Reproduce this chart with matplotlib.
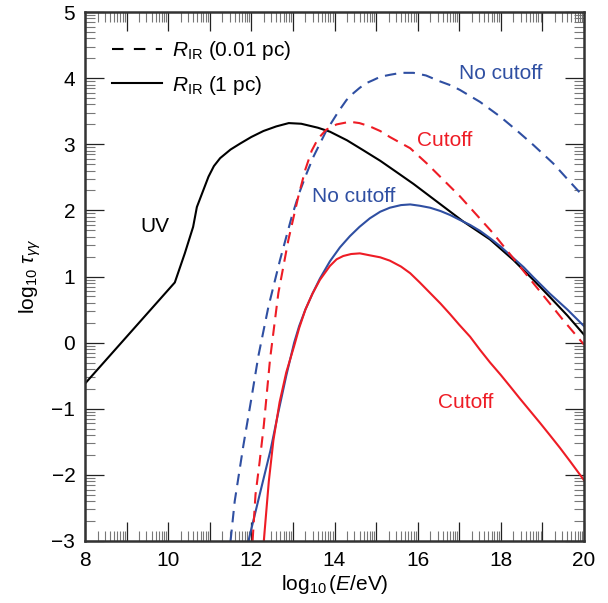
import numpy as np
import matplotlib
matplotlib.use('Agg')
import matplotlib.pyplot as plt
from matplotlib.lines import Line2D
from matplotlib.ticker import FixedLocator, MultipleLocator, FuncFormatter

plt.rcParams['font.family'] = ['Liberation Sans', 'DejaVu Sans']
plt.rcParams['mathtext.fontset'] = 'custom'
plt.rcParams['mathtext.rm'] = 'Liberation Sans'
plt.rcParams['mathtext.it'] = 'Liberation Sans:italic'
plt.rcParams['mathtext.bf'] = 'Liberation Sans:bold'

BLUE = '#2f4fa2'
RED = '#ee1c25'

# R_IR = 1 pc, total with UV (black)
x_uv = [8.0, 10.16, 10.40, 10.60, 10.69, 10.97, 11.10, 11.25, 11.50, 11.73, 12.00, 12.29,
        12.60, 12.90, 13.20, 13.40, 13.60, 13.89, 14.30, 14.69, 15.10, 15.49, 15.90,
        16.30, 16.70, 17.10, 17.74, 18.30, 18.78, 19.18, 19.60, 20.0]
y_uv = [-0.62, 0.91, 1.35, 1.75, 2.05, 2.51, 2.67, 2.79, 2.92, 3.01, 3.11, 3.20,
        3.27, 3.32, 3.31, 3.28, 3.25, 3.19, 3.06, 2.91, 2.75, 2.58, 2.40,
        2.21, 2.02, 1.83, 1.56, 1.25, 0.95, 0.69, 0.41, 0.12]

# R_IR = 1 pc, no cutoff (blue solid)
x_nc1 = [11.93, 12.20, 12.46, 12.65, 12.84, 13.03, 13.15, 13.30, 13.47, 13.65, 13.89,
         14.13, 14.37, 14.60, 14.85, 15.10, 15.33, 15.60, 15.82, 16.05, 16.30, 16.55,
         16.78, 17.00, 17.26, 17.50, 17.74, 18.00, 18.30, 18.55, 18.78, 19.18, 19.60, 20.0]
y_nc1 = [-3.0, -2.3, -1.63, -1.05, -0.5, 0.0, 0.25, 0.5, 0.74, 0.97, 1.23,
         1.44, 1.61, 1.75, 1.88, 1.98, 2.04, 2.08, 2.09, 2.07, 2.04, 1.99,
         1.93, 1.86, 1.78, 1.69, 1.58, 1.45, 1.28, 1.14, 0.99, 0.74, 0.50, 0.25]

# R_IR = 1 pc, cutoff (red solid)
x_c1 = [12.30, 12.42, 12.53, 12.68, 12.84, 13.03, 13.15, 13.30, 13.47, 13.65, 13.89,
        14.05, 14.21, 14.40, 14.61, 14.85, 15.10, 15.33, 15.60, 15.82, 16.05, 16.30,
        16.55, 16.78, 17.00, 17.26, 17.50, 17.74, 18.00, 18.22, 18.45, 18.70, 18.95,
        19.18, 19.42, 19.66, 20.0]
y_c1 = [-3.0, -2.1, -1.48, -0.9, -0.45, -0.05, 0.22, 0.5, 0.74, 0.95, 1.16,
        1.26, 1.31, 1.34, 1.35, 1.32, 1.29, 1.24, 1.15, 1.05, 0.91, 0.75,
        0.59, 0.43, 0.27, 0.09, -0.11, -0.30, -0.49, -0.66, -0.84, -1.03, -1.22,
        -1.40, -1.59, -1.79, -2.08]

# R_IR = 0.01 pc, no cutoff (blue dashed)
x_nc001 = [11.50, 11.60, 11.81, 12.00, 12.17, 12.41, 12.69, 12.97, 13.15, 13.33, 13.50,
           13.65, 13.80, 13.97, 14.10, 14.29, 14.45, 14.60, 14.75, 14.93, 15.10, 15.33,
           15.60, 15.90, 16.20, 16.54, 16.80, 17.02, 17.50, 17.98, 18.38, 18.78, 19.26,
           19.62, 20.0]
y_nc001 = [-3.0, -2.4, -1.55, -0.85, -0.2, 0.54, 1.25, 1.90, 2.26, 2.56, 2.82,
           3.01, 3.20, 3.37, 3.50, 3.67, 3.77, 3.85, 3.92, 3.97, 4.02, 4.05,
           4.08, 4.08, 4.04, 3.95, 3.89, 3.82, 3.64, 3.42, 3.21, 2.99, 2.71,
           2.46, 2.20]

# R_IR = 0.01 pc, cutoff (red dashed)
x_c001 = [12.03, 12.10, 12.20, 12.30, 12.45, 12.65, 12.89, 13.13, 13.30, 13.45, 13.60,
          13.80, 14.05, 14.37, 14.60, 14.85, 15.10, 15.33, 15.82, 16.22, 16.62, 17.02,
          17.42, 17.82, 18.14, 18.46, 18.78, 19.18, 19.50, 20.0]
y_c001 = [-3.0, -2.3, -1.8, -1.25, -0.25, 0.75, 1.55, 2.21, 2.62, 2.90, 3.08,
          3.22, 3.30, 3.34, 3.32, 3.27, 3.20, 3.11, 2.94, 2.71, 2.46, 2.21,
          1.93, 1.65, 1.40, 1.15, 0.90, 0.59, 0.34, -0.03]

fig = plt.figure(figsize=(6.08, 6.03), dpi=100)
ax = fig.add_axes([85/608, 1 - 541/603, 499/608, 529/603])

lw = 1.5
dash = (0, (5.5, 3.5))
ax.plot(x_uv, y_uv, color='black', lw=lw)
ax.plot(x_nc1, y_nc1, color=BLUE, lw=lw)
ax.plot(x_c1, y_c1, color=RED, lw=lw)
ax.plot(x_nc001, y_nc001, color=BLUE, lw=lw, linestyle=dash)
ax.plot(x_c001, y_c001, color=RED, lw=lw, linestyle=dash)

ax.set_xlim(8, 20)
ax.set_ylim(-3, 5)

# log-style minor ticks inside every unit
sub = np.log10(np.arange(2, 10))
ax.xaxis.set_major_locator(MultipleLocator(1))
ax.yaxis.set_major_locator(MultipleLocator(1))
ax.xaxis.set_minor_locator(FixedLocator([n + s for n in range(8, 20) for s in sub]))
ax.yaxis.set_minor_locator(FixedLocator([n + s for n in range(-3, 5) for s in sub]))
ax.xaxis.set_major_formatter(FuncFormatter(lambda v, p: '%d' % v if int(round(v)) % 2 == 0 else ''))
ax.yaxis.set_major_formatter(FuncFormatter(lambda v, p: ('%d' % v).replace('-', '\u2212')))

fs = 15
ax.tick_params(which='both', direction='in', top=True, right=True, labelsize=fs)
ax.tick_params(which='major', length=13.5, width=0.9, color='#222222', pad=7)
ax.tick_params(which='minor', length=7, width=0.8, color='#777777')
for sp in ax.spines.values():
    sp.set_linewidth(1.8)
    sp.set_color('#333333')

ax.set_xlabel(r'$\log_{10}(E/\mathrm{eV})$', fontsize=fs, labelpad=2)
ax.set_ylabel(r'$\log_{10}\,\tau_{\gamma\gamma}$', fontsize=fs, labelpad=6)

ax.text(16.99, 4.07, 'No cutoff', color=BLUE, fontsize=fs, ha='left', va='center')
ax.text(15.99, 3.05, 'Cutoff', color=RED, fontsize=fs, ha='left', va='center')
ax.text(13.47, 2.21, 'No cutoff', color=BLUE, fontsize=fs, ha='left', va='center')
ax.text(9.32, 1.76, 'UV', color='black', fontsize=fs, ha='left', va='center')
ax.text(16.50, -0.91, 'Cutoff', color=RED, fontsize=fs, ha='left', va='center')

handles = [Line2D([], [], color='black', lw=lw, linestyle=(0, (5.5, 5))),
           Line2D([], [], color='black', lw=lw)]
labels = [r'$R_{\mathrm{IR}}$ (0.01 pc)', r'$R_{\mathrm{IR}}$ (1 pc)']
ax.legend(handles, labels, loc='upper left', frameon=False, fontsize=fs,
          handlelength=2.4, handletextpad=0.5, labelspacing=0.55,
          borderaxespad=0.3, borderpad=1.0)

fig.savefig('out.png', dpi=100)
